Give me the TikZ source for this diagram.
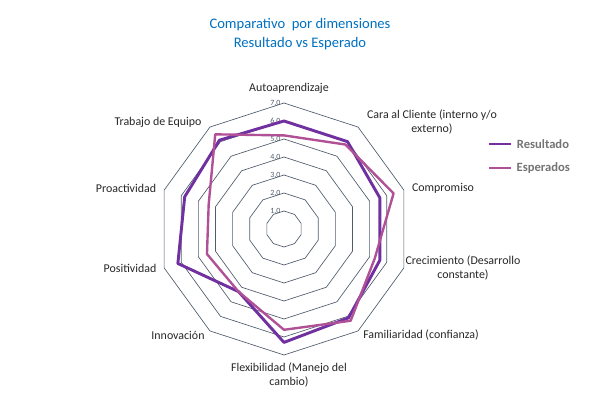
\documentclass[tikz,border=0pt]{standalone}
\usepackage{fontspec}
\setmainfont{Carlito}
\definecolor{titleblue}{RGB}{0,112,192}
\definecolor{gridgray}{RGB}{80,92,108}
\definecolor{resviolet}{RGB}{112,48,160}
\definecolor{espmagenta}{RGB}{176,80,150}
\tikzset{
  axislabel/.style={font=\fontsize{9}{10.5}\selectfont, text=black!85, align=center},
  ticklabel/.style={font=\fontsize{6}{7}\selectfont, text=gridgray, anchor=east, inner sep=1pt},
  legendtext/.style={font=\bfseries\fontsize{9.5}{11}\selectfont, text=black!55, anchor=west}
}
\begin{document}
\begin{tikzpicture}[x=0.0265cm, y=-0.0265cm]
  \useasboundingbox (0,0) rectangle (600,416);
  % title
  \node[text=titleblue, font=\fontsize{11}{14}\selectfont, align=center] (title) at (300,34)
    {Comparativo\ \ por dimensiones\\Resultado vs Esperado};
  % radar, y up
  \begin{scope}[shift={(284,229)}, yscale=-1]
    \foreach \r in {1,...,7}{
      \draw[gridgray, line width=0.5pt] (90:18*\r)
        \foreach \i in {1,...,9}{ -- ({90-36*\i}:18*\r) } -- cycle;
      \node[ticklabel] (t\r) at (-2,18*\r) {\r,0};
    }
    % data
    \draw[resviolet, line width=2.2pt, line join=round] (90:18*6.0)
      \foreach \v [count=\i] in {6.0,5.6,5.6,6.1,6.3,4.3,6.2,5.8,6.1}{ -- ({90-36*\i}:18*\v) } -- cycle;
    \draw[espmagenta, line width=1.8pt, line join=round] (90:18*5.2)
      \foreach \v [count=\i] in {5.8,6.4,5.3,6.3,5.6,4.3,4.5,4.4,6.5}{ -- ({90-36*\i}:18*\v) } -- cycle;
  \end{scope}
  % axis labels
  \node[axislabel] (auto) at (289,88) {Autoaprendizaje};
  \node[axislabel] (cara) at (432,122) {Cara al Cliente (interno y/o\\externo)};
  \node[axislabel] (comp) at (443,188) {Compromiso};
  \node[axislabel] (crec) at (463,268) {Crecimiento (Desarrollo\\constante)};
  \node[axislabel] (fami) at (421,335) {Familiaridad (confianza)};
  \node[axislabel] (flex) at (289,375) {Flexibilidad (Manejo del\\cambio)};
  \node[axislabel] (inno) at (178,335) {Innovación};
  \node[axislabel] (posi) at (130,268) {Positividad};
  \node[axislabel] (proa) at (126,188) {Proactividad};
  \node[axislabel] (trab) at (158,122) {Trabajo de Equipo};
  % legend
  \coordinate (la) at (489,144);
  \coordinate (lb) at (489,168);
  \draw[resviolet, line width=2.2pt] (la) -- ++(22,0) node[legendtext] (lres) {Resultado};
  \draw[espmagenta, line width=1.8pt] (lb) -- ++(22,0) node[legendtext] (lesp) {Esperados};
\end{tikzpicture}
\end{document}
